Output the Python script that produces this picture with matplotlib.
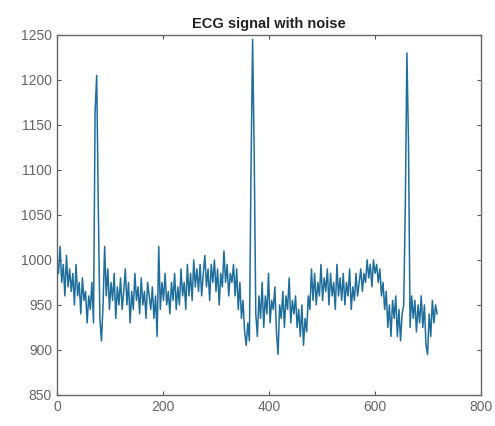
import numpy as np
import matplotlib
matplotlib.use("Agg")
import matplotlib.pyplot as plt

# sample positions (every 3rd sample of the ECG recording)
sample_step = 3
ecg_values = [
    1000, 985, 1015, 975, 995, 960, 1005, 970, 990, 965,
    985, 950, 995, 960, 975, 940, 980, 955, 965, 930,
    960, 945, 975, 930, 1165, 1205, 1060, 935, 910, 950,
    1015, 960, 990, 945, 975, 955, 985, 935, 970, 950,
    980, 945, 965, 990, 950, 975, 930, 965, 945, 985,
    955, 970, 940, 980, 950, 965, 935, 975, 960, 945,
    970, 935, 960, 915, 1015, 945, 975, 955, 985, 950,
    965, 940, 975, 955, 985, 945, 970, 950, 990, 960,
    975, 945, 995, 960, 985, 955, 1000, 970, 990, 965,
    995, 960, 985, 1005, 970, 990, 955, 995, 975, 1000,
    965, 990, 950, 985, 970, 1010, 975, 995, 960, 985,
    975, 995, 960, 990, 945, 975, 935, 955, 920, 905,
    930, 910, 1100, 1245, 1120, 940, 915, 960, 935, 975,
    925, 960, 940, 985, 930, 955, 945, 970, 920, 895,
    950, 935, 965, 925, 960, 945, 980, 930, 955, 940,
    960, 925, 945, 915, 950, 905, 935, 920, 960, 945,
    990, 955, 985, 950, 975, 960, 995, 955, 980, 965,
    990, 950, 985, 960, 975, 945, 995, 960, 980, 955,
    985, 950, 975, 960, 990, 945, 970, 955, 985, 960,
    975, 990, 965, 985, 975, 1000, 980, 995, 970, 1000,
    985, 995, 975, 990, 960, 975, 945, 965, 925, 950,
    915, 955, 935, 960, 915, 945, 910, 940, 950, 1060,
    1230, 1130, 925, 960, 935, 955, 920, 950, 930, 960,
    925, 950, 905, 895, 940, 915, 955, 930, 950, 940,
]
x_ticks = [0, 200, 400, 600, 800]
y_ticks = [850, 900, 950, 1000, 1050, 1100, 1150, 1200, 1250]
title = "ECG signal with noise"

samples = np.arange(len(ecg_values)) * sample_step

plt.rcParams['font.family'] = ['Liberation Sans', 'DejaVu Sans']
fig = plt.figure(figsize=(4.95, 4.26), dpi=100)
ax = fig.add_axes([0.115, 0.073, 0.857, 0.845])
ax.plot(samples, ecg_values, color='#1f6e9c', linewidth=1.1)
ax.set_xlim(0, 800)
ax.set_ylim(850, 1250)
ax.set_xticks(x_ticks)
ax.set_yticks(y_ticks)
ax.tick_params(direction='in', top=True, right=True, length=3, labelsize=10,
               labelcolor='#666666', color='#555555')
for s in ax.spines.values():
    s.set_color('#666666')
    s.set_linewidth(1.0)
ax.set_title(title, fontsize=10.5, color='#222222', pad=5, fontweight='semibold')
fig.savefig('out.png', dpi=100)
